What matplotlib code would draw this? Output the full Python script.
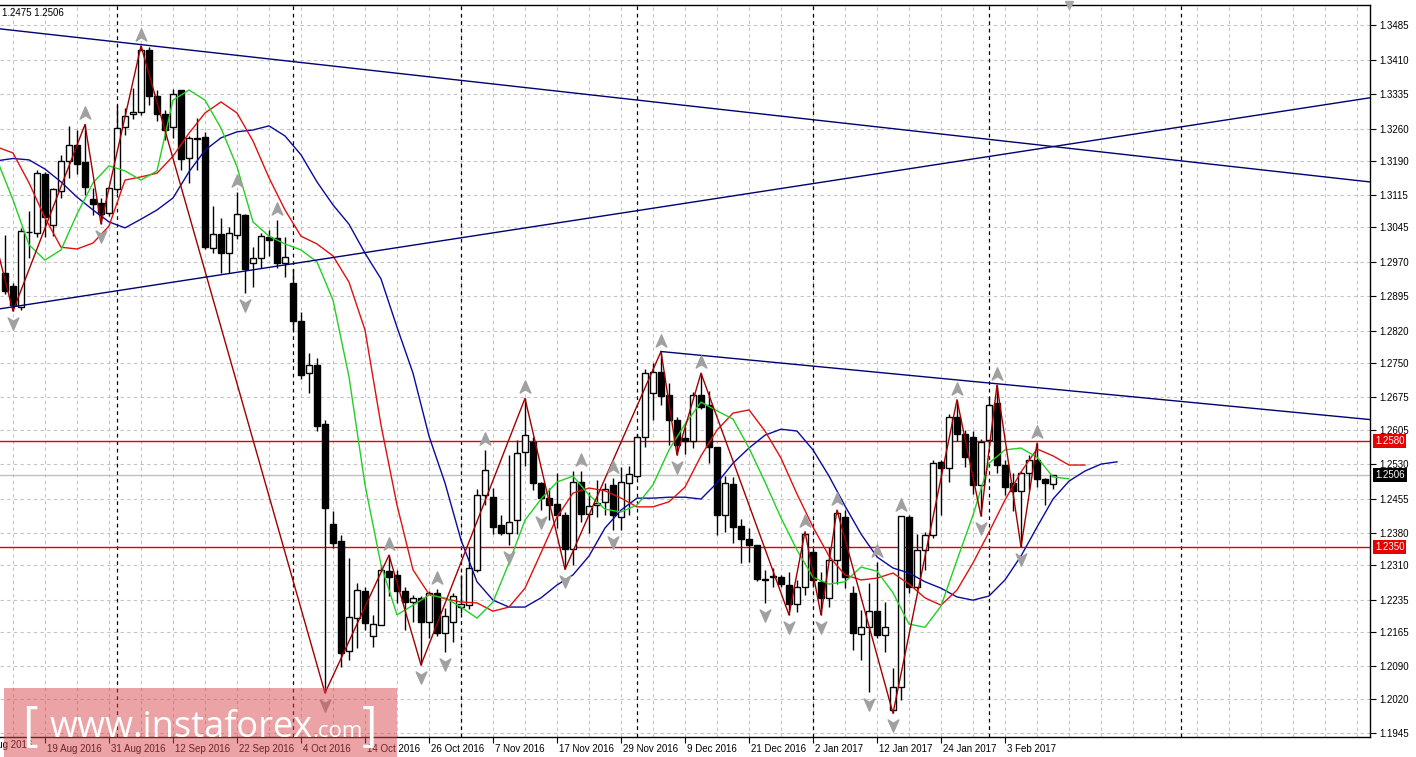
import matplotlib
matplotlib.use("Agg")
import matplotlib.pyplot as plt
import matplotlib.transforms as mtransforms
from matplotlib.path import Path
from matplotlib.patches import Rectangle
import numpy as np
import pandas as pd

# GBPUSD daily, 12 Aug 2016 .. 13 Feb 2017
opens = [1.2946, 1.2917, 1.2871, 1.3035, 1.3033, 1.3161, 1.3051, 1.3124, 1.3190, 1.3225,
         1.3187, 1.3106, 1.3098, 1.3077, 1.3129, 1.3263, 1.3292, 1.3296, 1.3432, 1.3332,
         1.3292, 1.3263, 1.3344, 1.3195, 1.3240, 1.3241, 1.3000, 1.3031, 1.2989, 1.3029,
         1.3072, 1.2967, 1.2978, 1.3025, 1.3021, 1.2967, 1.2923, 1.2841, 1.2728, 1.2746,
         1.2617, 1.2400, 1.2363, 1.2123, 1.2195, 1.2255, 1.2155, 1.2180, 1.2298, 1.2289,
         1.2253, 1.2231, 1.2238, 1.2187, 1.2249, 1.2162, 1.2187, 1.2220, 1.2224, 1.2300,
         1.2463, 1.2459, 1.2398, 1.2381, 1.2408, 1.2557, 1.2579, 1.2490, 1.2456, 1.2443,
         1.2419, 1.2345, 1.2492, 1.2422, 1.2441, 1.2448, 1.2485, 1.2416, 1.2490, 1.2504,
         1.2590, 1.2684, 1.2731, 1.2680, 1.2626, 1.2586, 1.2581, 1.2680, 1.2659, 1.2567,
         1.2419, 1.2487, 1.2395, 1.2366, 1.2354, 1.2281, 1.2285, 1.2284, 1.2267, 1.2226,
         1.2262, 1.2339, 1.2274, 1.2238, 1.2321, 1.2416, 1.2250, 1.2160, 1.2176, 1.2211,
         1.2158, 1.1995, 1.2046, 1.2416, 1.2262, 1.2343, 1.2376, 1.2535, 1.2521, 1.2633,
         1.2596, 1.2588, 1.2485, 1.2582, 1.2662, 1.2528, 1.2488, 1.2472, 1.2511, 1.2540,
         1.2497, 1.2487]
highs = [1.3029, 1.2925, 1.3044, 1.3080, 1.3170, 1.3165, 1.3131, 1.3203, 1.3265, 1.3256,
         1.3269, 1.3131, 1.3110, 1.3133, 1.3312, 1.3305, 1.3348, 1.3440, 1.3437, 1.3345,
         1.3300, 1.3346, 1.3345, 1.3245, 1.3282, 1.3253, 1.3092, 1.3065, 1.3047, 1.3121,
         1.3074, 1.3003, 1.3032, 1.3040, 1.3061, 1.3025, 1.2954, 1.2862, 1.2771, 1.2760,
         1.2625, 1.2427, 1.2376, 1.2325, 1.2271, 1.2263, 1.2202, 1.2311, 1.2332, 1.2300,
         1.2263, 1.2245, 1.2242, 1.2253, 1.2258, 1.2216, 1.2250, 1.2288, 1.2350, 1.2475,
         1.2561, 1.2477, 1.2419, 1.2550, 1.2583, 1.2673, 1.2590, 1.2492, 1.2477, 1.2510,
         1.2425, 1.2514, 1.2515, 1.2470, 1.2495, 1.2488, 1.2499, 1.2524, 1.2525, 1.2595,
         1.2738, 1.2749, 1.2775, 1.2706, 1.2633, 1.2610, 1.2687, 1.2728, 1.2690, 1.2567,
         1.2505, 1.2503, 1.2410, 1.2390, 1.2354, 1.2300, 1.2303, 1.2288, 1.2296, 1.2278,
         1.2383, 1.2346, 1.2296, 1.2350, 1.2430, 1.2430, 1.2264, 1.2213, 1.2271, 1.2318,
         1.2231, 1.2086, 1.2417, 1.2420, 1.2378, 1.2383, 1.2540, 1.2540, 1.2640, 1.2670,
         1.2604, 1.2603, 1.2585, 1.2677, 1.2702, 1.2540, 1.2510, 1.2515, 1.2550, 1.2575,
         1.2500, 1.2507]
lows = [1.2900, 1.2863, 1.2866, 1.2979, 1.3025, 1.3025, 1.3026, 1.3110, 1.3153, 1.3161,
        1.3116, 1.3073, 1.3053, 1.3070, 1.3120, 1.3247, 1.3280, 1.3290, 1.3312, 1.3276,
        1.3236, 1.3239, 1.3170, 1.3141, 1.3170, 1.2997, 1.2990, 1.2945, 1.2945, 1.3020,
        1.2902, 1.2916, 1.2956, 1.2982, 1.2956, 1.2938, 1.2822, 1.2715, 1.2684, 1.2601,
        1.2032, 1.2347, 1.2089, 1.2104, 1.2129, 1.2169, 1.2133, 1.2180, 1.2242, 1.2227,
        1.2169, 1.2187, 1.2093, 1.2151, 1.2155, 1.2122, 1.2144, 1.2205, 1.2215, 1.2295,
        1.2440, 1.2379, 1.2376, 1.2354, 1.2379, 1.2525, 1.2474, 1.2430, 1.2408, 1.2390,
        1.2301, 1.2311, 1.2405, 1.2380, 1.2415, 1.2420, 1.2387, 1.2387, 1.2419, 1.2500,
        1.2568, 1.2626, 1.2659, 1.2572, 1.2550, 1.2553, 1.2564, 1.2650, 1.2532, 1.2376,
        1.2383, 1.2358, 1.2314, 1.2318, 1.2275, 1.2227, 1.2263, 1.2262, 1.2202, 1.2209,
        1.2245, 1.2265, 1.2202, 1.2220, 1.2270, 1.2260, 1.2126, 1.2104, 1.2035, 1.2151,
        1.2122, 1.1988, 1.2017, 1.2250, 1.2258, 1.2300, 1.2370, 1.2419, 1.2492, 1.2580,
        1.2524, 1.2465, 1.2417, 1.2570, 1.2510, 1.2463, 1.2427, 1.2350, 1.2474, 1.2480,
        1.2441, 1.2475]
closes = [1.2906, 1.2877, 1.3037, 1.3036, 1.3163, 1.3067, 1.3129, 1.3190, 1.3225, 1.3183,
          1.3133, 1.3097, 1.3074, 1.3131, 1.3261, 1.3287, 1.3296, 1.3432, 1.3332, 1.3292,
          1.3258, 1.3336, 1.3193, 1.3239, 1.3237, 1.3002, 1.3031, 1.2989, 1.3032, 1.3074,
          1.2954, 1.2978, 1.3026, 1.3018, 1.2967, 1.2980, 1.2842, 1.2724, 1.2746, 1.2614,
          1.2435, 1.2359, 1.2120, 1.2198, 1.2256, 1.2185, 1.2182, 1.2300, 1.2285, 1.2253,
          1.2231, 1.2238, 1.2187, 1.2249, 1.2162, 1.2200, 1.2243, 1.2225, 1.2303, 1.2463,
          1.2517, 1.2394, 1.2381, 1.2405, 1.2554, 1.2593, 1.2490, 1.2456, 1.2441, 1.2419,
          1.2345, 1.2492, 1.2422, 1.2439, 1.2446, 1.2475, 1.2419, 1.2492, 1.2509, 1.2590,
          1.2728, 1.2731, 1.2679, 1.2626, 1.2572, 1.2581, 1.2680, 1.2655, 1.2568, 1.2419,
          1.2490, 1.2394, 1.2366, 1.2354, 1.2281, 1.2278, 1.2286, 1.2269, 1.2226, 1.2262,
          1.2378, 1.2278, 1.2238, 1.2321, 1.2423, 1.2285, 1.2162, 1.2176, 1.2210, 1.2158,
          1.2175, 1.2046, 1.2417, 1.2262, 1.2343, 1.2376, 1.2533, 1.2521, 1.2633, 1.2596,
          1.2546, 1.2485, 1.2579, 1.2659, 1.2528, 1.2481, 1.2472, 1.2511, 1.2539, 1.2497,
          1.2490, 1.2506]

# Alligator lines (already shifted), read at every second bar
jaw_idx = np.arange(-1, 140, 2)
jaw = [1.3190, 1.3195, 1.3192, 1.3172, 1.3144, 1.3111, 1.3083, 1.3057, 1.3044, 1.3063,
       1.3083, 1.3109, 1.3166, 1.3213, 1.3240, 1.3253, 1.3257, 1.3266, 1.3244, 1.3203,
       1.3144, 1.3094, 1.3052, 1.2989, 1.2933, 1.2828, 1.2728, 1.2591, 1.2489, 1.2365,
       1.2274, 1.2234, 1.2219, 1.2219, 1.2239, 1.2267, 1.2289, 1.2330, 1.2391, 1.2430,
       1.2456, 1.2456, 1.2458, 1.2458, 1.2454, 1.2489, 1.2532, 1.2565, 1.2593, 1.2606,
       1.2602, 1.2561, 1.2504, 1.2439, 1.2378, 1.2328, 1.2304, 1.2293, 1.2274, 1.2260,
       1.2241, 1.2234, 1.2243, 1.2278, 1.2330, 1.2393, 1.2454, 1.2493, 1.2515, 1.2530,
       1.2535]
teeth_idx = np.arange(-1, 136, 2)
teeth = [1.3220, 1.3207, 1.3142, 1.3066, 1.3002, 1.2998, 1.3011, 1.3048, 1.3148, 1.3155,
         1.3163, 1.3200, 1.3250, 1.3294, 1.3318, 1.3294, 1.3233, 1.3153, 1.3083, 1.3026,
         1.3009, 1.2983, 1.2926, 1.2822, 1.2615, 1.2441, 1.2300, 1.2247, 1.2237, 1.2230,
         1.2228, 1.2210, 1.2219, 1.2260, 1.2337, 1.2415, 1.2467, 1.2478, 1.2472, 1.2456,
         1.2437, 1.2437, 1.2448, 1.2480, 1.2548, 1.2604, 1.2641, 1.2648, 1.2602, 1.2543,
         1.2465, 1.2393, 1.2330, 1.2289, 1.2278, 1.2282, 1.2293, 1.2269, 1.2239, 1.2223,
         1.2256, 1.2315, 1.2382, 1.2452, 1.2513, 1.2563, 1.2548, 1.2528, 1.2528]
lips_idx = np.arange(-1, 134, 2)
lips = [1.3192, 1.3105, 1.3007, 1.2974, 1.2996, 1.3074, 1.3142, 1.3179, 1.3168, 1.3148,
        1.3168, 1.3322, 1.3344, 1.3322, 1.3261, 1.3177, 1.3057, 1.3026, 1.3009, 1.2996,
        1.2970, 1.2887, 1.2720, 1.2485, 1.2311, 1.2202, 1.2223, 1.2245, 1.2239, 1.2219,
        1.2195, 1.2230, 1.2315, 1.2408, 1.2454, 1.2491, 1.2504, 1.2463, 1.2432, 1.2426,
        1.2441, 1.2485, 1.2561, 1.2617, 1.2665, 1.2646, 1.2628, 1.2565, 1.2491, 1.2413,
        1.2343, 1.2284, 1.2269, 1.2274, 1.2306, 1.2297, 1.2250, 1.2182, 1.2175, 1.2221,
        1.2321, 1.2419, 1.2532, 1.2561, 1.2565, 1.2545, 1.2502, 1.2498]

# ZigZag turning points (bar index, price)
zz_idx = [-2, 1, 10, 12, 17, 40, 48, 52, 65, 70, 82, 84, 87, 98, 100, 102, 104, 111,
          119, 122, 124, 127, 129]
zz_val = [1.3068, 1.2863, 1.3269, 1.3053, 1.3440, 1.2032, 1.2332, 1.2093, 1.2673, 1.2301,
          1.2775, 1.2550, 1.2728, 1.2202, 1.2383, 1.2202, 1.2430, 1.1988, 1.2670, 1.2417,
          1.2702, 1.2350, 1.2575]

fractal_up = [10, 17, 29, 34, 48, 54, 60, 65, 72, 76, 82, 87, 100, 104, 109, 112, 119, 124, 129]
fractal_down = [1, 12, 30, 40, 52, 55, 63, 67, 70, 76, 84, 95, 98, 102, 108, 111, 122, 127]

# trend lines: (bar index, price) pairs
trend_lines = [
    ((-0.6, 1.3477), (170.6, 1.3144)),
    ((-0.6, 1.2868), (170.6, 1.3327)),
    ((82, 1.2775), (170.6, 1.2627)),
]
levels = [1.2580, 1.2350]
last_price = 1.2506

price_ticks = ["1.3485", "1.3410", "1.3335", "1.3260", "1.3190", "1.3115", "1.3045",
               "1.2970", "1.2895", "1.2820", "1.2750", "1.2675", "1.2605", "1.2530",
               "1.2455", "1.2380", "1.2310", "1.2235", "1.2165", "1.2090", "1.2020",
               "1.1945"]

W, H = 1416, 757
XLIM = (-0.625, 170.625)
YLIM = (1.193627, 1.352895)
plt.rcParams["font.family"] = ["Liberation Sans", "DejaVu Sans"]

fig = plt.figure(figsize=(W / 100, H / 100), dpi=100)
ax = fig.add_axes([0, 20 / H, 1370 / W, 732 / H])

n = len(opens)
idx = np.arange(n)
all_dates = pd.bdate_range("2016-08-09", periods=n + 3)
first = 3  # all_dates[3] is bar 0

# grid
grid_kw = dict(color="#c4c4c4", lw=0.8, linestyle=(0, (3, 3)), zorder=0)
for t in price_ticks:
    ax.axhline(float(t), **grid_kw)
for g in range(1, 171, 4):
    ax.axvline(g, **grid_kw)

# month separators (future ones by calendar days)
last_date = all_dates[-1]
months = pd.date_range("2016-09-01", "2017-03-01", freq="MS")
for m in months:
    if m <= last_date:
        pos = int(np.searchsorted(all_dates, m)) - first
    else:
        pos = n - 1 + (m - last_date).days
    ax.axvline(pos, color="black", lw=0.9, linestyle=(0, (3, 3)), zorder=1)

# levels
for lv in levels:
    ax.axhline(lv, color="#e00000", lw=1, zorder=2)
ax.axhline(last_price, color="#c0c0c0", lw=1, zorder=1.5)

# candles
o = np.array(opens); c = np.array(closes)
ax.vlines(idx, lows, highs, color="black", lw=1, zorder=3)
bull = c >= o
ax.bar(idx[bull], c[bull] - o[bull], bottom=o[bull], width=0.68,
       facecolor="white", edgecolor="black", lw=1, zorder=4)
ax.bar(idx[~bull], o[~bull] - c[~bull], bottom=c[~bull], width=0.68,
       facecolor="black", edgecolor="black", lw=1, zorder=4)

# alligator
ax.plot(jaw_idx, jaw, color="#0a0a9c", lw=1, zorder=5)
ax.plot(teeth_idx, teeth, color="#e01010", lw=1, zorder=5)
ax.plot(lips_idx, lips, color="#22d022", lw=1, zorder=5)

# zigzag
ax.plot(zz_idx, zz_val, color="#a00000", lw=1, zorder=6)

# trend lines
for (x1, y1), (x2, y2) in trend_lines:
    ax.plot([x1, x2], [y1, y2], color="#000070", lw=1, zorder=6)

# fractal arrows
up_path = Path([(0, 1), (0.7, -0.6), (0, -0.15), (-0.7, -0.6), (0, 1)],
               [Path.MOVETO, Path.LINETO, Path.LINETO, Path.LINETO, Path.CLOSEPOLY])
down_path = Path([(0, -1), (0.7, 0.6), (0, 0.15), (-0.7, 0.6), (0, -1)],
                 [Path.MOVETO, Path.LINETO, Path.LINETO, Path.LINETO, Path.CLOSEPOLY])
up_off = ax.transData + mtransforms.ScaledTranslation(0, 10 / 100, fig.dpi_scale_trans)
dn_off = ax.transData + mtransforms.ScaledTranslation(0, -11 / 100, fig.dpi_scale_trans)
ax.plot(fractal_up, [highs[i] for i in fractal_up], linestyle="none", marker=up_path,
        ms=11, color="#a0a0a0", transform=up_off, zorder=7)
ax.plot(fractal_down, [lows[i] for i in fractal_down], linestyle="none", marker=down_path,
        ms=11, color="#a0a0a0", transform=dn_off, zorder=7)

# chart shift marker at top
ax.plot([n + 1], [YLIM[1]], marker="v", ms=6, color="#a8a8a8", clip_on=False, zorder=8)

# axes styling
ax.spines["left"].set_visible(False)
for s in ["top", "bottom", "right"]:
    ax.spines[s].set_color("black")
    ax.spines[s].set_linewidth(1)

ax.yaxis.tick_right()
ax.set_yticks([float(t) for t in price_ticks])
ax.set_yticklabels(price_ticks)
ax.tick_params(axis="y", length=4, pad=3, labelsize=7, colors="black")

label_pos = list(range(-3, n, 8))
label_txt = []
for p in label_pos:
    d = all_dates[p + first]
    label_txt.append(f"{d.day} {d:%b %Y}")
ax.set_xticks(label_pos[1:])
ax.set_xticklabels(label_txt[1:], ha="left")
ax.tick_params(axis="x", length=4, pad=1, labelsize=7, colors="black")
shift = mtransforms.ScaledTranslation(2 / 100, 0, fig.dpi_scale_trans)
for lbl in ax.get_xticklabels():
    lbl.set_transform(lbl.get_transform() + shift)

# limits last, so the ticks do not widen them
ax.set_xlim(*XLIM)
ax.set_ylim(*YLIM)

# first date label sits left of the view and is cut by the window edge
lab_tr = mtransforms.blended_transform_factory(ax.transData, ax.transAxes)
lab_tr = lab_tr + mtransforms.ScaledTranslation(2 / 100, -3 / 100, fig.dpi_scale_trans)
ax.text(label_pos[0], 0, label_txt[0], transform=lab_tr, ha="left", va="top",
        fontsize=7, clip_on=False)

# price boxes on the axis
box_tr = mtransforms.blended_transform_factory(ax.transAxes, ax.transData)
box_shift = box_tr + mtransforms.ScaledTranslation(5 / 100, 0, fig.dpi_scale_trans)
for lv in levels:
    ax.text(1.0, lv, f"{lv:.4f}", transform=box_shift, ha="left", va="center",
            fontsize=7, color="white", clip_on=False, zorder=9,
            bbox=dict(boxstyle="square,pad=0.2", fc="#e80000", ec="none"))
ax.text(1.0, last_price, f"{last_price:.4f}", transform=box_shift, ha="left", va="center",
        fontsize=7, color="white", clip_on=False, zorder=9,
        bbox=dict(boxstyle="square,pad=0.2", fc="black", ec="none"))

fig.text(2 / W, 1 - 13 / H, "1.2475 1.2506", fontsize=7, va="center", ha="left")

# watermark
fig.patches.append(Rectangle((4 / W, 0), 393 / W, 69 / H, transform=fig.transFigure,
                             facecolor="#d9494f", alpha=0.5, edgecolor="none", zorder=20))
wm = dict(color="white", family="Open Sans", va="baseline", zorder=21)
fig.text(22 / W, 1 - 740 / H, "[", fontsize=34, **wm)
fig.text(50 / W, 1 - 737 / H, "www.instaforex", fontsize=26, **wm)
fig.text(312 / W, 1 - 737 / H, ".com", fontsize=16, **wm)
fig.text(362 / W, 1 - 740 / H, "]", fontsize=34, **wm)

fig.savefig("out.png", dpi=100)
